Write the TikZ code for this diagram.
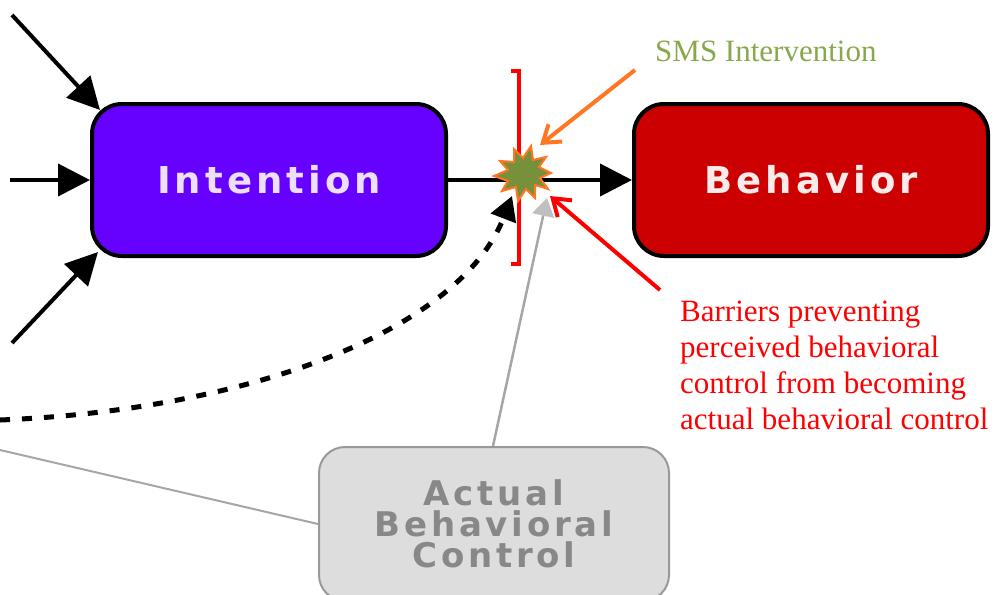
\documentclass[tikz,border=0pt]{standalone}
\usepackage{fontspec}
\setmainfont{Liberation Serif}
\newfontfamily\boxfont[LetterSpace=11]{DejaVu Sans}
\usetikzlibrary{arrows.meta}
\definecolor{intblue}{HTML}{6600FF}
\definecolor{behred}{HTML}{CC0000}
\definecolor{abcgray}{HTML}{DDDDDD}
\definecolor{abctext}{HTML}{888888}
\definecolor{smsgreen}{HTML}{88A84C}
\definecolor{burstgreen}{HTML}{77903A}
\definecolor{burstorange}{HTML}{FF7722}
\definecolor{labred}{HTML}{FF0000}
\tikzset{
  mainbox/.style={draw=black, line width=4pt, rounded corners=30pt, minimum width=354pt, minimum height=152pt, inner sep=0pt, font=\boxfont\bfseries\fontsize{37}{37}\selectfont, text=white!88!intblue},
  abcbox/.style={draw=gray!80, fill=abcgray, line width=2pt, rounded corners=26pt, minimum width=350pt, minimum height=154pt, inner sep=0pt, font=\boxfont\bfseries\fontsize{34}{31}\selectfont, text=abctext, align=center},
  blackarrow/.style={draw=black, line width=4pt, -{Triangle[length=32pt,width=32pt]}},
  labeltext/.style={font=\fontsize{31}{36}\selectfont, align=left, inner sep=0pt, anchor=north west}
}
\begin{document}
\begin{tikzpicture}[x=1pt,y=-1pt]
\useasboundingbox (0,0) rectangle (998,594);
% boxes
\node[mainbox, fill=intblue] (int) at (269,180) {Intention};
\node[mainbox, fill=behred, text=white!92!behred] (beh) at (811,180) {Behavior};
\node[abcbox] (abc) at (494,524) {Actual\\Behavioral\\Control};
% left inputs
\coordinate (in1) at (12,15);
\coordinate (in2) at (10,180);
\coordinate (in3) at (12,343);
\draw[blackarrow] (in1) -- (100,110);
\draw[blackarrow] (in2) -- (int.west);
\draw[blackarrow] (in3) -- (98,252);
% intention -> behavior
\draw[blackarrow] (int.east) -- (beh.west);
% gray line from left to ABC
\coordinate (gl) at (0,450);
\draw[gray!70, line width=2pt] (gl) -- (abc.west);
% dashed curve
\coordinate (dl) at (0,420);
\draw[black, line width=5pt, dash pattern=on 10pt off 12pt, -{Triangle[length=24pt,width=26pt]}]
  (dl) .. controls (250,410) and (460,330) .. (512,196);
% gray arrow from ABC
\draw[gray!70, line width=2.5pt, -{Triangle[length=18pt,width=22pt,color=gray!50]}] (abc.north) ++(-1,0) -- (547,198);
% red bracket
\draw[labred, line width=4pt] (511,71) -- (519,71) -- (519,264) -- (511,264);
% starburst
\node[inner sep=0pt, minimum size=1pt] (burst) at (524,173) {};
\fill[burstgreen, draw=burstorange, line width=2pt]
  (524+27,173+0) -- (524+15,173-6) -- (524+22,173-16) -- (524+9,173-13) -- (524+7,173-27)
  -- (524-1,173-15) -- (524-10,173-24) -- (524-10,173-11) -- (524-24,173-12) -- (524-16,173-3)
  -- (524-30,173+3) -- (524-16,173+8) -- (524-22,173+18) -- (524-8,173+14) -- (524-6,173+28)
  -- (524+2,173+16) -- (524+11,173+25) -- (524+11,173+12) -- (524+24,173+16) -- (524+16,173+5) -- cycle;
% labels
\node[font=\fontsize{31}{34}\selectfont, text=smsgreen, anchor=west, inner sep=0pt] (sms) at (655,51) {SMS Intervention};
\node[labeltext, text=labred] (bar) at (680,301) {Barriers preventing\\perceived behavioral\\control from becoming\\actual behavioral control};
% pointing arrows
\coordinate (oa) at (635,70);
\draw[burstorange, line width=4pt, -{Straight Barb[length=16pt,width=22pt]}] (oa) -- (540,145);
\coordinate (ra) at (660,290);
\draw[labred, line width=4pt, -{Straight Barb[length=16pt,width=22pt]}] (ra) -- (550,196);
\end{tikzpicture}
\end{document}
